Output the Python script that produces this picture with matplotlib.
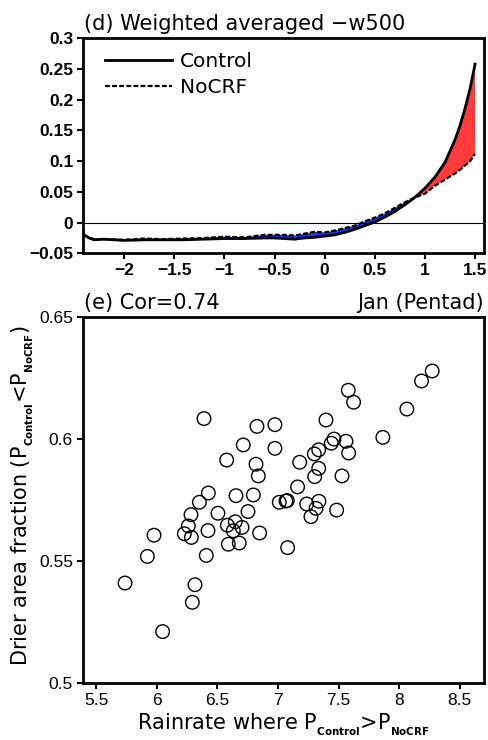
import matplotlib
matplotlib.use("Agg")
import matplotlib.pyplot as plt
import numpy as np

plt.rcParams["font.family"] = ["DejaVu Sans"]
plt.rcParams["mathtext.fontset"] = "dejavusans"
TICK_FONT = ["Liberation Sans", "DejaVu Sans"]

# (d) weighted averaged -w500 versus rain-rate bin
bin_x = [-2.4, -2.35, -2.3, -2.2, -2.0, -1.8, -1.6, -1.4, -1.2, -1.0, -0.8, -0.6,
         -0.5, -0.4, -0.3, -0.2, -0.1, 0.0, 0.1, 0.2, 0.3, 0.4, 0.5, 0.6, 0.7,
         0.8, 0.9, 1.0, 1.1, 1.2, 1.3, 1.35, 1.4, 1.45, 1.5]
control_w = [-0.020, -0.025, -0.028, -0.027, -0.029, -0.028, -0.028, -0.028, -0.027,
             -0.026, -0.026, -0.025, -0.025, -0.026, -0.027, -0.025, -0.024, -0.022,
             -0.020, -0.016, -0.011, -0.005, 0.001, 0.009, 0.018, 0.029, 0.041,
             0.056, 0.074, 0.098, 0.135, 0.158, 0.186, 0.218, 0.258]
nocrf_w = [-0.020, -0.024, -0.027, -0.027, -0.028, -0.026, -0.027, -0.026, -0.025,
           -0.023, -0.024, -0.020, -0.020, -0.020, -0.021, -0.018, -0.015, -0.016,
           -0.013, -0.009, -0.005, 0.002, 0.008, 0.015, 0.024, 0.033, 0.041,
           0.047, 0.060, 0.070, 0.080, 0.086, 0.093, 0.100, 0.112]

# (e) pentad scatter, January
rainrate = [8.272, 8.184, 7.580, 7.624, 8.063, 6.390, 7.396, 6.827, 6.975, 7.865,
            7.462, 7.440, 7.561, 6.714, 6.975, 7.336, 7.300, 7.583, 6.577, 7.179,
            6.819, 7.336, 7.303, 6.838, 7.528, 7.162, 6.426, 6.654, 6.797, 6.352,
            7.011, 7.066, 7.077, 7.237, 7.338, 6.505, 6.753, 6.283, 7.314, 7.484,
            7.272, 6.261, 6.583, 6.648, 6.704, 6.632, 6.423, 6.228, 6.286, 5.978,
            6.849, 6.591, 6.681, 7.080, 5.923, 6.409, 5.739, 6.316, 6.294, 6.049]
drier_frac = [0.6280, 0.6239, 0.6201, 0.6152, 0.6124, 0.6085, 0.6079, 0.6053, 0.6060, 0.6008,
              0.6001, 0.5984, 0.5992, 0.5977, 0.5963, 0.5957, 0.5940, 0.5944, 0.5915, 0.5906,
              0.5898, 0.5881, 0.5847, 0.5850, 0.5850, 0.5805, 0.5780, 0.5769, 0.5772, 0.5742,
              0.5742, 0.5747, 0.5749, 0.5735, 0.5746, 0.5697, 0.5704, 0.5691, 0.5717, 0.5710,
              0.5683, 0.5645, 0.5648, 0.5662, 0.5639, 0.5625, 0.5626, 0.5613, 0.5598, 0.5607,
              0.5616, 0.5570, 0.5575, 0.5556, 0.5520, 0.5524, 0.5411, 0.5404, 0.5332, 0.5212]

fig = plt.figure(figsize=(4.88, 7.40), dpi=100)

# ---- top panel ----
ax1 = fig.add_axes([0.170, 0.6577, 0.822, 0.2905])
xd = np.array(bin_x)
yc = np.array(control_w)
yn = np.array(nocrf_w)
ax1.fill_between(xd, yc, yn, where=yc >= yn, interpolate=True, color="#ff3b3b", lw=0)
ax1.fill_between(xd, yc, yn, where=yc < yn, interpolate=True, color="#2233ee", lw=0)
ax1.axhline(0, color="black", lw=0.8)
ax1.plot(xd, yc, color="black", lw=2.0, label="Control")
ax1.plot(xd, yn, color="black", lw=1.6, ls=(0, (2.2, 1.0)), label="NoCRF")
ax1.set_xlim(-2.41, 1.59)
ax1.set_ylim(-0.05, 0.3)
ax1.set_xticks([-2, -1.5, -1, -0.5, 0, 0.5, 1, 1.5])
ax1.set_xticklabels(["\u22122", "\u22121.5", "\u22121", "\u22120.5", "0", "0.5", "1", "1.5"])
ax1.set_yticks([-0.05, 0, 0.05, 0.1, 0.15, 0.2, 0.25, 0.3])
ax1.set_yticklabels(["\u22120.05", "0", "0.05", "0.1", "0.15", "0.2", "0.25", "0.3"])
for lab in ax1.get_xticklabels() + ax1.get_yticklabels():
    lab.set_family(TICK_FONT)
    lab.set_fontweight("bold")
    lab.set_fontsize(12.5)
ax1.tick_params(direction="out", length=4, width=1.5, pad=3)
for sp in ax1.spines.values():
    sp.set_linewidth(2)
ax1.legend(loc="upper left", bbox_to_anchor=(0.02, 1.0), frameon=False, fontsize=14.5,
           handlelength=3.3, handletextpad=0.4, labelspacing=0.35, borderaxespad=0.3)
fig.text(0.172, 0.968, "(d) Weighted averaged \u2212w500", fontsize=15, ha="left", va="center")

# ---- bottom panel ----
ax2 = fig.add_axes([0.1695, 0.0766, 0.8225, 0.4946])
ax2.scatter(rainrate, drier_frac, s=95, facecolors="none", edgecolors="black", linewidths=1.0)
ax2.set_xlim(5.39, 8.70)
ax2.set_ylim(0.5, 0.65)
ax2.set_xticks([5.5, 6, 6.5, 7, 7.5, 8, 8.5])
ax2.set_xticklabels(["5.5", "6", "6.5", "7", "7.5", "8", "8.5"])
ax2.set_yticks([0.5, 0.55, 0.6, 0.65])
ax2.set_yticklabels(["0.5", "0.55", "0.6", "0.65"])
for lab in ax2.get_xticklabels() + ax2.get_yticklabels():
    lab.set_family(TICK_FONT)
    lab.set_fontsize(12.5)
ax2.tick_params(direction="out", length=4, width=1.5, pad=3)
for sp in ax2.spines.values():
    sp.set_linewidth(2)
ax2.set_xlabel(r"Rainrate where P$_{_{\mathbf{Control}}}$>P$_{_{\mathbf{NoCRF}}}$", fontsize=15, labelpad=3)
ax2.set_ylabel(r"Drier area fraction (P$_{_{\mathbf{Control}}}$<P$_{_{\mathbf{NoCRF}}}$)", fontsize=15)
ax2.yaxis.set_label_coords(-0.1155, 0.512)
fig.text(0.172, 0.591, "(e) Cor=0.74", fontsize=15, ha="left", va="center")
fig.text(0.992, 0.591, "Jan (Pentad)", fontsize=15, ha="right", va="center")

fig.savefig("out.png", dpi=100)
